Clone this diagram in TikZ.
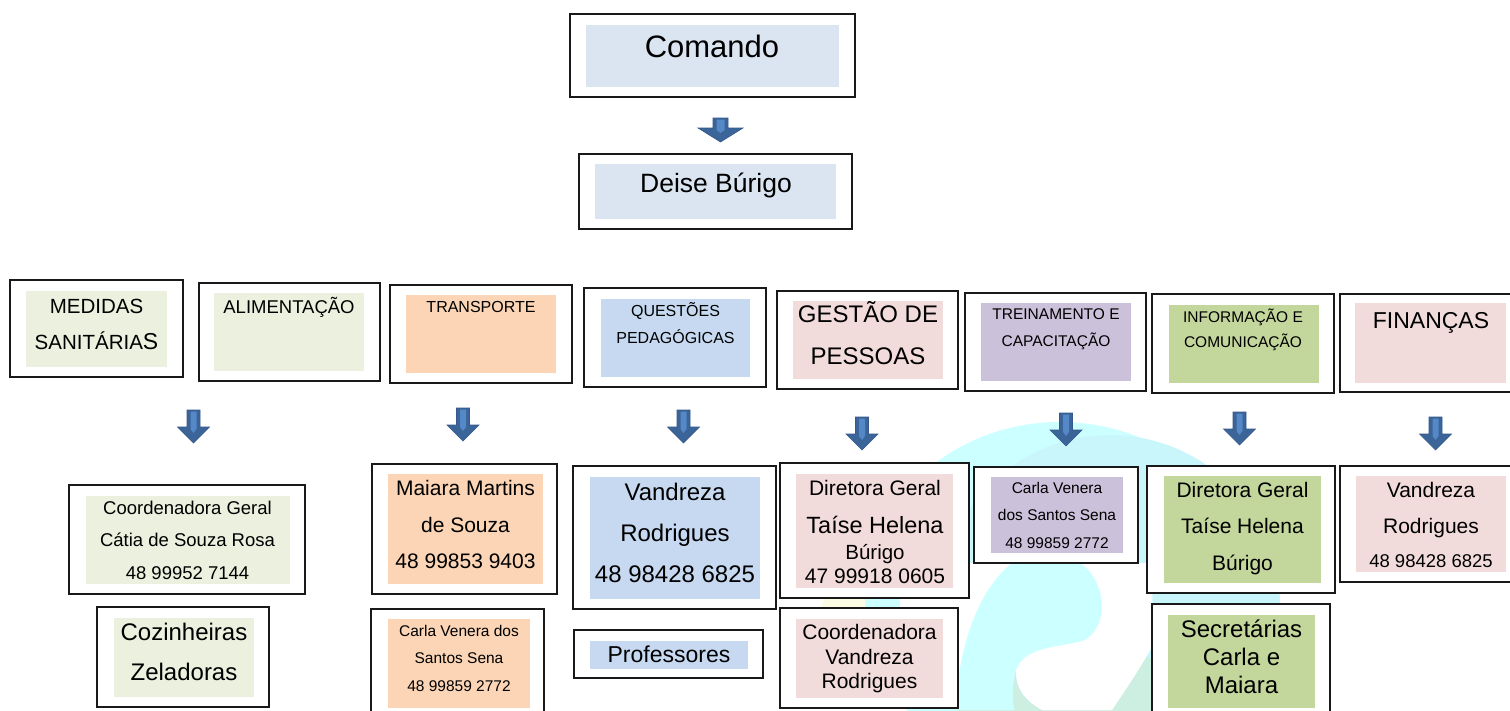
\documentclass[tikz,border=0pt]{standalone}
\usepackage{fontspec}
\setmainfont{Liberation Sans}
\definecolor{cBG}{HTML}{DBE5F1}
\definecolor{cGreen}{HTML}{EBF1DE}
\definecolor{cPeach}{HTML}{FBD5B5}
\definecolor{cBlue}{HTML}{C6D9F1}
\definecolor{cPink}{HTML}{F2DCDB}
\definecolor{cLav}{HTML}{CCC1DA}
\definecolor{cOlive}{HTML}{C3D69B}
\definecolor{arrowc}{HTML}{3B6499}
\definecolor{arrowd}{HTML}{35598A}
\definecolor{arrowl}{HTML}{5588C6}
\definecolor{wmCyan}{HTML}{CCFFFF}
\definecolor{wmCyan2}{HTML}{C9F6FB}
\definecolor{wmMint}{HTML}{CDEFE2}
\definecolor{wmYellow}{HTML}{FCFCE4}
\newcommand\tx[5]{\node[anchor=base, inner sep=0pt, font=\fontsize{#4}{#4}\selectfont] (#1) at (#2,#3) {#5};}
\tikzset{
  obox/.style={draw=black!90, line width=1.2pt, fill=white},
  barrow/.pic={
    \fill[arrowc, draw=arrowd, line width=0.6pt] (-6.5,0) -- (6.5,0) -- (6.5,17) -- (16,17) -- (0,33) -- (-16,17) -- (-6.5,17) -- cycle;
    \fill[arrowl] (-3,1.5) -- (3,1.5) -- (3,19) -- (0,23) -- (-3,19) -- cycle;
  },
  warrow/.pic={
    \fill[arrowc, draw=arrowd, line width=0.6pt] (-7.5,0) -- (7.5,0) -- (7.5,10) -- (22.5,10) -- (0,24) -- (-22.5,10) -- (-7.5,10) -- cycle;
    \fill[arrowl] (-4,1.5) -- (4,1.5) -- (4,12) -- (0,15) -- (-4,12) -- cycle;
  }
}
\begin{document}
\begin{tikzpicture}[x=1pt,y=-1pt]
\useasboundingbox (0,0) rectangle (1510,710);
\clip (0,0) rectangle (1510,710);
% watermark
\fill[wmYellow] (845,640) ellipse [x radius=30, y radius=55];
\fill[wmCyan] (1060,600) ellipse [x radius=195, y radius=178];
\fill[wmCyan2] (1110,605) circle [radius=170];
\fill[wmMint] (1085,780) ellipse [x radius=150, y radius=135];
\fill[white] (900,563) -- (1152,563) -- (1153,645) .. controls (1138,672) and (1124,692) .. (1112,710) -- (1042,710) .. controls (1024,700) and (1016,688) .. (1016,672) -- (900,672) -- cycle;
\fill[wmCyan] (1012,563) -- (1080,563) .. controls (1106,580) and (1110,625) .. (1085,640) .. controls (1060,648) and (1025,645) .. (1016,670) .. controls (1012,685) and (1012,700) .. (1014,710) -- (955,710) .. controls (958,660) and (972,595) .. (1012,563) -- cycle;

% top
\draw[obox] (570,14) rectangle (855,97);
\fill[cBG] (586,25) rectangle (839,87);
\tx{comando}{712}{57}{31}{Comando}
\pic at (720.5,118) {warrow};
\draw[obox] (579,154) rectangle (852,229);
\fill[cBG] (595,164) rectangle (836,219);
\tx{deise}{716}{192}{26.5}{Deise Búrigo}

% category row
\draw[obox] (10,280) rectangle (183,377);
\fill[cGreen] (26,291) rectangle (167,367);
\tx{med1}{96.5}{313}{20.5}{MEDIDAS}
\tx{med2}{96.5}{349}{20.5}{SANITÁRIA{\fontsize{23}{23}\selectfont S}}

\draw[obox] (199,283) rectangle (380,381);
\fill[cGreen] (214,293) rectangle (364,371);
\tx{ali}{289}{313}{18.5}{ALIMENTAÇÃO}

\draw[obox] (390,285) rectangle (572,383);
\fill[cPeach] (406,295) rectangle (556,373);
\tx{tra}{481}{312}{16}{TRANSPORTE}

\draw[obox] (584,288) rectangle (766,387);
\fill[cBlue] (601,299) rectangle (750,377);
\tx{que1}{675.5}{316}{16}{QUESTÕES}
\tx{que2}{675.5}{343}{16}{PEDAGÓGICAS}

\draw[obox] (777,291) rectangle (958,389);
\fill[cPink] (793,301) rectangle (943,379);
\tx{ges1}{868}{322}{24}{GESTÃO DE}
\tx{ges2}{868}{364}{24}{PESSOAS}

\draw[obox] (965,293) rectangle (1146,391);
\fill[cLav] (981,303) rectangle (1131,381);
\tx{tre1}{1056}{319}{15.5}{TREINAMENTO E}
\tx{tre2}{1056}{346}{15.5}{CAPACITAÇÃO}

\draw[obox] (1152,294) rectangle (1334,393);
\fill[cOlive] (1169,305) rectangle (1319,383);
\tx{inf1}{1243}{322}{15.5}{INFORMAÇÃO E}
\tx{inf2}{1243}{347}{15.5}{COMUNICAÇÃO}

\draw[obox] (1340,294) rectangle (1530,392);
\fill[cPink] (1355,303) rectangle (1506,383);
\tx{fin}{1431}{328}{23}{FINANÇAS}

% arrows
\pic at (193.5,410) {barrow};
\pic at (463,408) {barrow};
\pic at (683.5,410) {barrow};
\pic at (862,417) {barrow};
\pic at (1066,413) {barrow};
\pic at (1239.5,412) {barrow};
\pic at (1435.5,417) {barrow};

% bottom row
\draw[obox] (69,485) rectangle (305,594);
\fill[cGreen] (86,496) rectangle (290,584);
\tx{cg1}{187.5}{514}{18.5}{Coordenadora Geral}
\tx{cg2}{187.5}{546}{18.5}{Cátia de Souza Rosa}
\tx{cg3}{187.5}{579}{18.5}{48 99952 7144}

\draw[obox] (97,607) rectangle (269,707);
\fill[cGreen] (114,618) rectangle (254,697);
\tx{cz1}{184}{640}{24}{Cozinheiras}
\tx{cz2}{184}{680}{24}{Zeladoras}

\draw[obox] (372,464) rectangle (557,594);
\fill[cPeach] (388,474) rectangle (543,584);
\tx{mm1}{465.5}{495.5}{21}{Maiara Martins}
\tx{mm2}{465.5}{532}{21}{de Souza}
\tx{mm3}{465.5}{568.5}{21}{48 99853 9403}

\draw[obox] (371,609) rectangle (544,725);
\fill[cPeach] (388,619) rectangle (530,708);
\tx{cv1}{459}{636}{15.5}{Carla Venera dos}
\tx{cv2}{459}{663}{15.5}{Santos Sena}
\tx{cv3}{459}{691}{15.5}{48 99859 2772}

\draw[obox] (573,466) rectangle (776,609);
\fill[cBlue] (590,477) rectangle (760,599);
\tx{vr1}{675}{500}{24}{Vandreza}
\tx{vr2}{675}{541}{24}{Rodrigues}
\tx{vr3}{675}{582}{24}{48 98428 6825}

\draw[obox] (574,630) rectangle (763,678);
\fill[cBlue] (590,641) rectangle (748,669);
\tx{pr}{669}{662}{23}{Professores}

\draw[obox] (780,463) rectangle (969,598);
\fill[cPink] (796,474) rectangle (953,588);
\tx{dg1}{875}{495}{21}{Diretora Geral}
\tx{dg2}{875}{533}{23.5}{Taíse Helena}
\tx{dg3}{875}{559}{20.5}{Búrigo}
\tx{dg4}{875}{583}{21}{47 99918 0605}

\draw[obox] (780,608) rectangle (958,708);
\fill[cPink] (796,619) rectangle (943,698);
\tx{cr1}{869.5}{639}{21}{Coordenadora}
\tx{cr2}{869.5}{664}{21}{Vandreza}
\tx{cr3}{869.5}{688}{21}{Rodrigues}

\draw[obox] (974,467) rectangle (1138,563);
\fill[cLav] (991,477) rectangle (1123,553);
\tx{ct1}{1057}{493}{15.5}{Carla Venera}
\tx{ct2}{1057}{520}{15.5}{dos Santos Sena}
\tx{ct3}{1057}{548}{15.5}{48 99859 2772}

\draw[obox] (1147,466) rectangle (1335,593);
\fill[cOlive] (1164,476) rectangle (1321,583);
\tx{di1}{1242.5}{497}{21}{Diretora Geral}
\tx{di2}{1242.5}{533}{21}{Taíse Helena}
\tx{di3}{1242.5}{570}{21}{Búrigo}

\draw[obox] (1152,604) rectangle (1330,725);
\fill[cOlive] (1168,615) rectangle (1315,708);
\tx{se1}{1241.5}{637}{24}{Secretárias}
\tx{se2}{1241.5}{665}{24}{Carla e}
\tx{se3}{1241.5}{693}{24}{Maiara}

\draw[obox] (1340,466) rectangle (1530,582);
\fill[cPink] (1356,476) rectangle (1506,572);
\tx{fv1}{1431}{497}{21}{Vandreza}
\tx{fv2}{1431}{533}{21}{Rodrigues}
\tx{fv3}{1431}{567}{18.5}{48 98428 6825}
\end{tikzpicture}
\end{document}
